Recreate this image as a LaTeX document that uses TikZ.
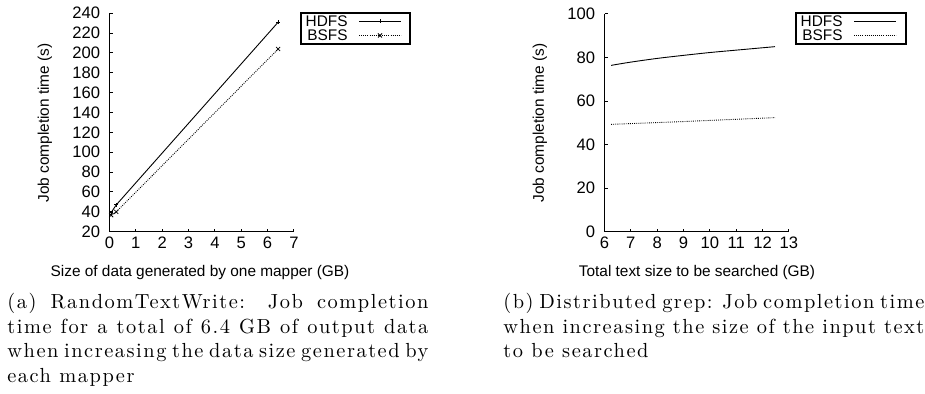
\documentclass[tikz,border=0pt]{standalone}
\usepackage{fontspec}
\newfontfamily\plotfont{Liberation Sans}
\newfontfamily\captfont{Latin Modern Roman}[LetterSpace=7.5]
\usetikzlibrary{calc}

\tikzset{
  axisline/.style={line width=0.5pt},
  hdfsline/.style={line width=0.45pt},
  bsfsline/.style={line width=0.45pt,dash pattern=on 0.45pt off 0.6pt},
  hdfsdot/.pic={\draw[line width=0.4pt] (-1pt,0) -- (1pt,0) (0,-1pt) -- (0,1pt);},
  bsfscross/.pic={\draw[line width=0.4pt] (-1pt,-1pt) -- (1pt,1pt) (-1pt,1pt) -- (1pt,-1pt);},
  ticklbl/.style={inner sep=0pt,font=\plotfont\fontsize{8.3}{9}\selectfont},
  legbox/.style={draw,line width=0.6pt,inner sep=0pt},
  capt/.style={anchor=north west,inner sep=0pt,text width=210.5pt,align=justify,
    font=\captfont\fontsize{10.2}{12.3}\selectfont}
}

\begin{document}
\begin{tikzpicture}[x=0.5pt,y=-0.5pt,font=\plotfont\fontsize{7.7}{8.5}\selectfont]
 \useasboundingbox (0,0) rectangle (925,394);

 % plot (a): RandomTextWrite
 \begin{scope}[shift={(109.5,231.7)},x=13.175pt,y=0.4964pt]
  \draw[axisline] (0,220) -- (0,0) -- (7,0);
  \foreach \i in {0,...,7} {
    \draw[axisline] (\i,0) -- ++(0,1.5pt);
    \node[ticklbl,anchor=north,yshift=-2.3pt] (xtA\i) at (\i,0) {\i};}
  \foreach \v in {20,40,...,240} {
    \draw[axisline] (0,\v-20) -- ++(1.5pt,0);
    \node[ticklbl,anchor=east,xshift=-4.5pt] (ytA\v) at (0,\v-20) {\v};}
  % data
  \draw[hdfsline] (0.064,19.3) -- (0.256,27) -- (6.4,211);
  \draw[bsfsline] (0.064,16.6) -- (0.256,20) -- (6.4,184);
  \foreach \x/\y in {0.064/19.3,0.256/27,6.4/211} \path (\x,\y) pic {hdfsdot};
  \foreach \x/\y in {0.064/16.6,0.256/20,6.4/184} \path (\x,\y) pic {bsfscross};
 \end{scope}
 \node[rotate=90] (ylabA) at (45,123) {Job completion time (s)};
 \node (xlabA) at (200,273) {Size of data generated by one mapper (GB)};
 % legend (a)
 \node[legbox,minimum width=54.5pt,minimum height=15.5pt] (legA) at (355.5,28.5) {};
 \node[anchor=east,inner sep=0pt] (hA) at (348,21) {HDFS};
 \node[anchor=east,inner sep=0pt] (bA) at (348,35.5) {BSFS};
 \draw[hdfsline] (359,21) -- (401,21);
 \draw[bsfsline] (359,35.5) -- (401,35.5);
 \path (380,21) pic {hdfsdot} (380,35.5) pic {bsfscross};

 % plot (b): distributed grep
 \begin{scope}[shift={(604.5,231.7)},x=13.175pt,y=1.0885pt]
  \draw[axisline] (0,100) -- (0,0) -- (7,0);
  \foreach \i in {6,...,13} {
    \draw[axisline] (\i-6,0) -- ++(0,1.5pt);
    \node[ticklbl,anchor=north,yshift=-2.3pt] (xtB\i) at (\i-6,0) {\i};}
  \foreach \v in {0,20,...,100} {
    \draw[axisline] (0,\v) -- ++(1.5pt,0);
    \node[ticklbl,anchor=east,xshift=-4.5pt] (ytB\v) at (0,\v) {\v};}
  % data
  \draw[hdfsline] plot[smooth] coordinates {(0.25,76.4) (1,77.9) (2,79.6) (3,81) (4,82.3) (5,83.4) (6.47,85)};
  \draw[bsfsline] (0.25,49.3) -- (3,50.6) -- (6.47,52.4);
 \end{scope}
 \node[rotate=90] (ylabB) at (540,123) {Job completion time (s)};
 \node (xlabB) at (697,273) {Total text size to be searched (GB)};
 % legend (b)
 \node[legbox,minimum width=55pt,minimum height=15.5pt] (legB) at (851,28.5) {};
 \node[anchor=east,inner sep=0pt] (hB) at (843,21) {HDFS};
 \node[anchor=east,inner sep=0pt] (bB) at (843,35.5) {BSFS};
 \draw[hdfsline] (854,21) -- (896,21);
 \draw[bsfsline] (854,35.5) -- (896,35.5);

 % captions
 \node[capt] (capA) at (7,293) {(a) RandomTextWrite: Job completion\linebreak time for a total of 6.4~GB of output data\linebreak when increasing the data size generated by\linebreak each mapper};
 \node[capt] (capB) at (503,293) {(b) Distributed grep: Job completion time\linebreak when increasing the size of the input text\linebreak to be searched};
\end{tikzpicture}
\end{document}
